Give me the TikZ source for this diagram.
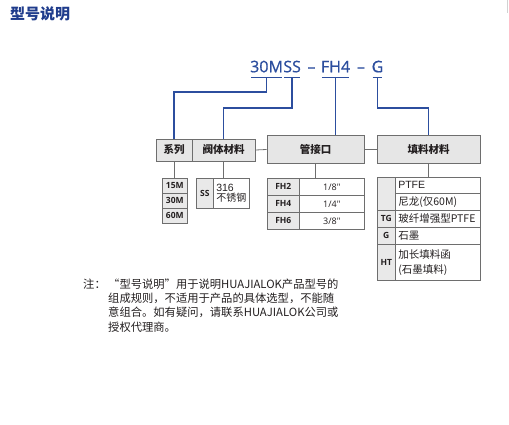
\documentclass[tikz,border=0pt]{standalone}
\usepackage{fontspec}
\setmainfont{Liberation Sans}
\newfontfamily\cjk{Noto Sans CJK SC}
\newfontfamily\lat{Open Sans}
\newfontfamily\latmed[FakeBold=0.7]{Open Sans}
\definecolor{codeblue}{HTML}{2C4E9E}
\definecolor{titleblue}{HTML}{1F3C8C}
\definecolor{boxfill}{HTML}{E6E6E6}
\definecolor{cellfill}{HTML}{E9E9E9}
\definecolor{edge}{HTML}{6E6E6E}
\definecolor{ink}{HTML}{231F20}
\tikzset{
 codetxt/.style={font=\latmed\fontsize{16}{16}\selectfont, text=codeblue, inner sep=0, anchor=base},
 uline/.style={codeblue, line width=1.3pt},
 conn/.style={codeblue, line width=1.3pt},
 gline/.style={edge, line width=0.8pt},
 hbox/.style={draw=edge, fill=boxfill, line width=0.8pt, inner sep=0, font=\cjk\bfseries\fontsize{10.5}{12}\selectfont, text=ink},
 gcell/.style={draw=edge, fill=cellfill, line width=0.6pt, inner sep=0, anchor=north west, font=\lat\bfseries\fontsize{8.5}{10}\selectfont, text=ink},
 wcell/.style={draw=edge, fill=white, line width=0.6pt, inner sep=0, anchor=north west, text=ink},
 pcell/.style={wcell, minimum width=85, text width=79, inner xsep=3, align=left, font=\cjk\fontsize{10.5}{15}\selectfont},
}
\begin{document}
\begin{tikzpicture}[x=1pt,y=-1pt]
\useasboundingbox (0,0) rectangle (509,425);
\draw[gray!35, line width=0.8pt] (507.5,0) -- (507.5,13);
% title
\node[anchor=west, font=\cjk\bfseries\fontsize{15}{15}\selectfont, text=titleblue, inner sep=0] (title) at (10,14) {型号说明};
% code
\node[codetxt, anchor=base west] (t30) at (250,72.3) {30M};
\node[codetxt, anchor=base west] (tSS) at (t30.base east) {SS};
\node[codetxt] (d1) at (311.5,72.3) {–};
\node[codetxt] (tFH) at (335.5,72.3) {FH4};
\node[codetxt] (d2) at (361,72.3) {–};
\node[codetxt] (tG) at (377.5,72.3) {G};
\foreach \n in {t30,tSS,tFH,tG}{
  \draw[uline] ([yshift=-5.2pt,xshift=1.2pt]\n.base west) -- ([yshift=-5.2pt,xshift=-1.2pt]\n.base east);
  \coordinate (u\n) at ([yshift=-5.2pt]\n.base);
}
% header boxes
\node[hbox, minimum width=36, minimum height=22] (sys) at (174,150) {系列};
\node[hbox, minimum width=63, minimum height=22] (body) at (223.5,150) {阀体材料};
\node[hbox, minimum width=97, minimum height=28] (port) at (315.5,149.5) {管接口};
\node[hbox, minimum width=103, minimum height=28] (pack) at (428.5,149.5) {填料材料};
\draw[gline] (body.east) -- (port.west);
\draw[gline] (port.east) -- (pack.west);
% blue connectors
\coordinate (e30) at (174,92);
\coordinate (eSS) at (223.5,108);
\coordinate (eG) at (428.5,108);
\draw[conn] (ut30) |- (e30) -- (sys.north);
\draw[conn] (utSS) |- (eSS) -- (body.north);
\draw[conn] (utFH) -- (utFH |- port.north);
\draw[conn] (utG) |- (eG) -- (pack.north);
% series table
\node[gcell, minimum width=25, minimum height=15] (s15) at (162,178) {15M};
\node[gcell, minimum width=25, minimum height=15] (s30) at (162,193) {30M};
\node[gcell, minimum width=25, minimum height=15] (s60) at (162,208) {60M};
\draw[gline] (sys.south) -- (sys.south |- s15.north);
% body table
\node[gcell, minimum width=17, minimum height=30] (ssk) at (196,178) {SS};
\node[wcell, minimum width=36, minimum height=30, align=left, font=\fontsize{10.5}{10.5}\selectfont] (ssv) at (213,178) {316\\{\cjk\fontsize{10}{10}\selectfont 不锈钢}};
\draw[gline] (body.south) -- (body.south |- ssv.north);
% port table
\node[gcell, minimum width=32, minimum height=17] (p2k) at (267,178) {FH2};
\node[wcell, minimum width=65, minimum height=17, font=\lat\fontsize{9}{10}\selectfont] (p2v) at (299,178) {1/8"};
\node[gcell, minimum width=32, minimum height=17] (p4k) at (267,195) {FH4};
\node[wcell, minimum width=65, minimum height=17, font=\lat\fontsize{9}{10}\selectfont] (p4v) at (299,195) {1/4"};
\node[gcell, minimum width=32, minimum height=17] (p6k) at (267,212) {FH6};
\node[wcell, minimum width=65, minimum height=17, font=\lat\fontsize{9}{10}\selectfont] (p6v) at (299,212) {3/8"};
\draw[gline] (port.south) -- (port.south |- p2v.north);
% packing table
\node[gcell, minimum width=18, minimum height=33] (k0) at (377,177) {};
\node[gcell, minimum width=18, minimum height=17] (kTG) at (377,210) {TG};
\node[gcell, minimum width=18, minimum height=17] (kG) at (377,227) {G};
\node[gcell, minimum width=18, minimum height=36] (kHT) at (377,244) {HT};
\node[pcell, minimum height=16, font=\fontsize{10.5}{15}\selectfont] (v1) at (395,177) {PTFE};
\node[pcell, minimum height=17] (v2) at (395,193) {尼龙(仅60M)};
\node[pcell, minimum height=17] (v3) at (395,210) {玻纤增强型PTFE};
\node[pcell, minimum height=17] (v4) at (395,227) {石墨};
\node[pcell, minimum height=36] (v5) at (395,244) {加长填料函\\(石墨填料)};
\draw[gline] (pack.south) -- (pack.south |- v1.north);
% note
\node[anchor=north west, inner sep=0, font=\cjk\fontsize{11.3}{14.3}\selectfont, text=ink] (zhu) at (83,278.5) {注：};
\node[anchor=north west, inner sep=0, align=left, font=\cjk\fontsize{11.3}{14.3}\selectfont, text=ink] (note) at (108,278.5) {“型号说明”用于说明HUAJIALOK产品型号的\\组成规则，不适用于产品的具体选型，不能随\\意组合。如有疑问，请联系HUAJIALOK公司或\\授权代理商。};
\end{tikzpicture}
\end{document}
